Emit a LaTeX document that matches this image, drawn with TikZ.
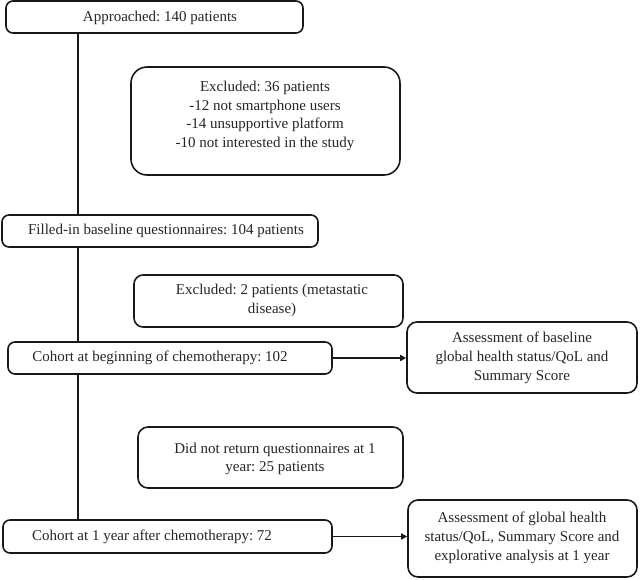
\documentclass[tikz,border=0pt]{standalone}
\usepackage{fontspec}
\setmainfont{Liberation Serif}
\usetikzlibrary{arrows.meta}
\frenchspacing
\tikzset{
  box/.style={draw=black!90, line width=1.6pt, rounded corners=7pt, fill=white, inner sep=0pt},
  txt/.style={inner sep=0pt, align=center, font=\fontsize{15}{18.8}\selectfont, text=black!85},
  conn/.style={draw=black!90, line width=1.7pt},
  arr/.style={conn, -{Triangle[length=6pt,width=6pt]}}
}
\begin{document}
\begin{tikzpicture}[x=1pt,y=-1pt]
\useasboundingbox (0,0) rectangle (640,579);
% boxes
\node[box, minimum width=297pt, minimum height=32pt] (app) at (154.5,17) {};
\node[box, rounded corners=16pt, minimum width=269pt, minimum height=108pt] (ex1) at (265.5,121) {};
\node[box, minimum width=316pt, minimum height=32pt] (fill) at (160,231) {};
\node[box, rounded corners=9pt, minimum width=269pt, minimum height=52pt] (ex2) at (268.5,301) {};
\node[box, minimum width=324pt, minimum height=32pt] (coh) at (170,358) {};
\node[box, rounded corners=10pt, minimum width=230pt, minimum height=71pt] (as1) at (522,357.5) {};
\node[box, rounded corners=10pt, minimum width=265pt, minimum height=61pt] (dnr) at (270.5,457.5) {};
\node[box, minimum width=329pt, minimum height=33pt] (coh2) at (167.5,536.5) {};
\node[box, rounded corners=10pt, minimum width=229pt, minimum height=77pt] (as2) at (522.5,538.5) {};
% texts
\node[txt] (tapp) at (160,18) {Approached: 140 patients};
\node[txt] (tex1) at (265,116) {Excluded: 36 patients\\-12 not smartphone users\\-14 unsupportive platform\\-10 not interested in the study};
\node[txt] (tfill) at (166,231) {Filled-in baseline questionnaires: 104 patients};
\node[txt] (tex2) at (272,300) {Excluded: 2 patients (metastatic\\disease)};
\node[txt] (tcoh) at (160,358) {Cohort at beginning of chemotherapy: 102};
\node[txt] (tas1) at (522,358) {Assessment of baseline\\global health status/QoL and\\Summary Score};
\node[txt] (tdnr) at (275,459) {Did not return questionnaires at 1\\year: 25 patients};
\node[txt] (tcoh2) at (152,537) {Cohort at 1 year after chemotherapy: 72};
\node[txt] (tas2) at (522,538) {Assessment of global health\\status/QoL, Summary Score and\\explorative analysis at 1 year};
% connectors
\coordinate (vx) at (78,0);
\draw[conn] (app.south -| vx) -- (fill.north -| vx);
\draw[conn] (fill.south -| vx) -- (coh.north -| vx);
\draw[conn] (coh.south -| vx) -- (coh2.north -| vx);
\draw[arr] (coh.east) -- (as1.west |- coh.east);
\draw[arr] (coh2.east) -- (as2.west |- coh2.east);
\end{tikzpicture}
\end{document}
